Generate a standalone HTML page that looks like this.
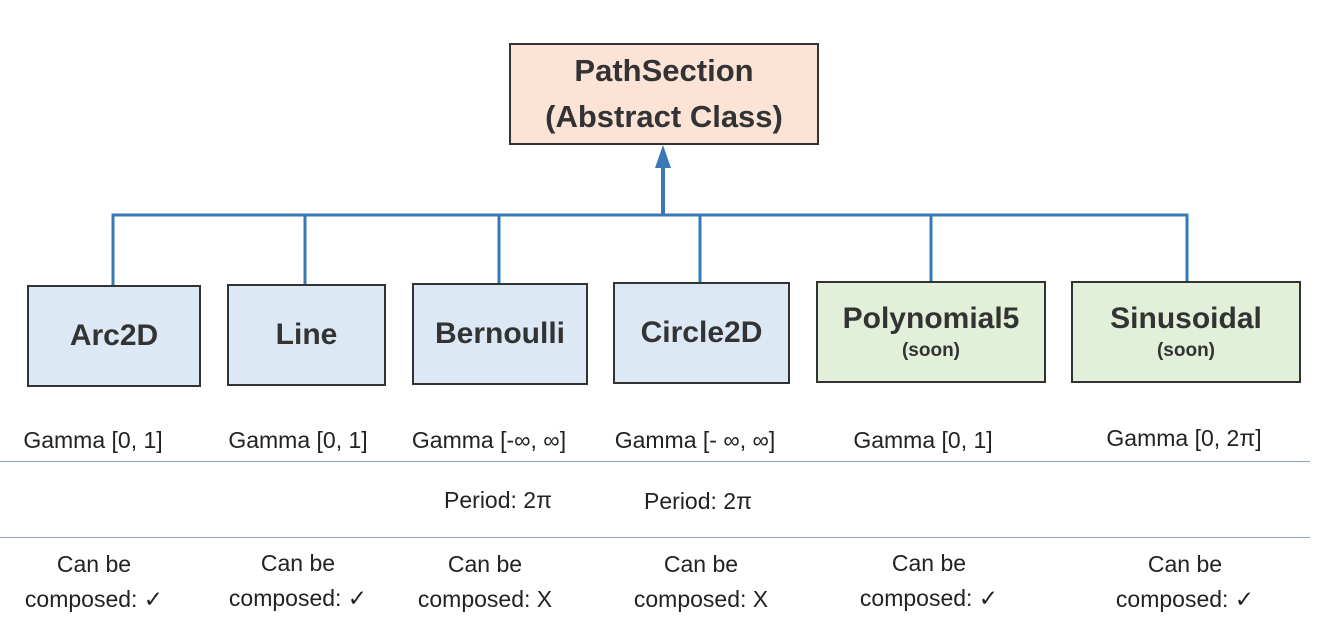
<!DOCTYPE html>
<html><head><meta charset="utf-8"><style>
body{margin:0;width:1331px;height:624px;background:#fff;position:relative;overflow:hidden;font-family:"Liberation Sans",sans-serif;color:#222}
.b{position:absolute;box-sizing:border-box;border:2px solid #333;background:#dce8f4;display:flex;flex-direction:column;align-items:center;justify-content:center;font-weight:bold;font-size:30px;color:#333;white-space:nowrap}
.g{background:#e2efd9}
.s{font-size:19px;margin-top:4px}
.t{position:absolute;font-size:23px;text-align:center;width:220px;line-height:35px;color:#222;white-space:nowrap}
.h{position:absolute;left:0;width:1310px;height:1px;background:#8ea3cc}
</style></head><body>
<svg width="1331" height="624" style="position:absolute;left:0;top:0">
<g stroke="#3a78b5" stroke-width="3" fill="none">
<polyline points="113,285 113,215 1187,215 1187,281"/>
<line x1="305" y1="215" x2="305" y2="284"/>
<line x1="499" y1="215" x2="499" y2="283"/>
<line x1="700" y1="215" x2="700" y2="282"/>
<line x1="931" y1="215" x2="931" y2="281"/>
<line x1="663" y1="215" x2="663" y2="165" stroke-width="4"/>
</g>
<polygon points="663,145 655,168 671,168" fill="#3a78b5"/>
</svg>
<div class="b" style="left:509px;top:43px;width:310px;height:102px;background:#fbe3d6;font-size:31px;line-height:46px;text-align:center">PathSection<br>(Abstract Class)</div>
<div class="b" style="left:27px;top:285px;width:174px;height:102px">Arc2D</div>
<div class="b" style="left:227px;top:284px;width:159px;height:102px">Line</div>
<div class="b" style="left:412px;top:283px;width:176px;height:102px">Bernoulli</div>
<div class="b" style="left:613px;top:282px;width:177px;height:102px">Circle2D</div>
<div class="b g" style="left:816px;top:281px;width:230px;height:102px">Polynomial5<span class="s">(soon)</span></div>
<div class="b g" style="left:1071px;top:281px;width:230px;height:102px">Sinusoidal<span class="s">(soon)</span></div>
<div class="t" style="left:-17px;top:423px">Gamma [0, 1]</div>
<div class="t" style="left:188px;top:423px">Gamma [0, 1]</div>
<div class="t" style="left:379px;top:423px">Gamma [-∞, ∞]</div>
<div class="t" style="left:585px;top:423px">Gamma [- ∞, ∞]</div>
<div class="t" style="left:813px;top:423px">Gamma [0, 1]</div>
<div class="t" style="left:1074px;top:421px">Gamma [0, 2π]</div>
<div class="h" style="top:461px"></div>
<div class="t" style="left:388px;top:483px">Period: 2π</div>
<div class="t" style="left:588px;top:484px">Period: 2π</div>
<div class="h" style="top:537px"></div>
<div class="t" style="left:-16px;top:547px">Can be<br>composed: ✓</div>
<div class="t" style="left:188px;top:546px">Can be<br>composed: ✓</div>
<div class="t" style="left:375px;top:547px">Can be<br>composed: X</div>
<div class="t" style="left:591px;top:547px">Can be<br>composed: X</div>
<div class="t" style="left:819px;top:546px">Can be<br>composed: ✓</div>
<div class="t" style="left:1075px;top:547px">Can be<br>composed: ✓</div>
</body></html>
